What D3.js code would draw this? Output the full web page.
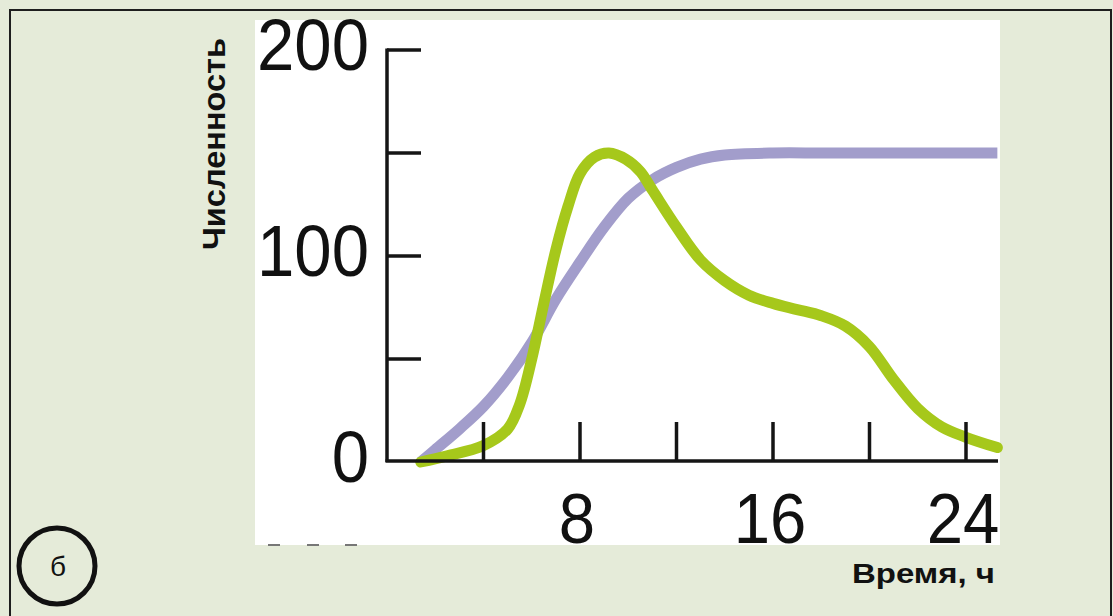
<!DOCTYPE html>
<html>
<head>
<meta charset="utf-8">
<script src="https://cdn.jsdelivr.net/npm/d3@7"></script>
<style>
  body { margin: 0; background: #e5ebd9; }
  svg { display: block; }
  text { font-family: "Liberation Sans", Arial, sans-serif; fill: #111; }
</style>
</head>
<body>
<div id="chart-area"></div>
<script>
// Data
const hours       = [1.4, 2, 3, 4, 5, 6, 7, 8, 9, 10, 11, 12, 13, 14, 16, 18, 20, 22, 24, 25.3]
const purpleCount = [0, 6, 16, 27, 41, 58, 79, 97, 114, 128, 137, 143, 147, 149, 150, 150, 150, 150, 150, 150]

const greenHours  = [1.4, 2.5, 4, 5, 5.5, 6, 6.5, 7, 7.5, 8, 8.6, 9.2, 9.9, 10.5, 11, 12, 13, 14, 15, 16, 17, 18, 19, 20, 21, 22, 23, 24, 25.3]
const greenCount  = [0, 3, 8, 16, 28, 50, 77, 103, 124, 140, 148, 150, 147, 141, 132, 114, 98, 88, 81, 77, 74, 71, 66, 56, 40, 26, 17, 12, 7]

const xTicks = [4, 8, 12, 16, 20, 24]
const xTickLabels = [8, 16, 24]
const yTicks = [50, 100, 150, 200]
const yTickLabels = [0, 100, 200]

// Layout
const W = 1113, H = 616
const PLOT = { LEFT: 387, RIGHT: 998, TOP: 50, BOTTOM: 462 }

const svg = d3.select("#chart-area").append("svg")
  .attr("width", W)
  .attr("height", H)

// background frame
svg.append("rect")
  .attr("x", 10).attr("y", 10)
  .attr("width", 1101).attr("height", 620)
  .attr("fill", "#e5ebd9")
  .attr("stroke", "#1e1e1e")
  .attr("stroke-width", 2)

// white panel
svg.append("rect")
  .attr("x", 255).attr("y", 20)
  .attr("width", 745).attr("height", 525)
  .attr("fill", "#ffffff")

// Scales
const x = d3.scaleLinear().domain([0, 24]).range([PLOT.LEFT, 966])
const y = d3.scaleLinear().domain([0, 200]).range([PLOT.BOTTOM, PLOT.TOP])

// Curves
const line = d3.line()
  .x(d => x(d[0]))
  .y(d => y(d[1]))
  .curve(d3.curveCatmullRom.alpha(0.5))

svg.append("path")
  .datum(hours.map((h, i) => [h, purpleCount[i]]))
  .attr("d", line)
  .attr("fill", "none")
  .attr("stroke", "#a29dcb")
  .attr("stroke-width", 11)

svg.append("path")
  .datum(greenHours.map((h, i) => [h, greenCount[i]]))
  .attr("d", line)
  .attr("fill", "none")
  .attr("stroke", "#a6c81b")
  .attr("stroke-width", 11)
  .attr("stroke-linecap", "round")

// Axes
const axisColor = "#151515"
svg.append("line")
  .attr("x1", PLOT.LEFT).attr("x2", PLOT.LEFT)
  .attr("y1", y(200) - 1.5).attr("y2", PLOT.BOTTOM)
  .attr("stroke", axisColor).attr("stroke-width", 3.5)

svg.append("line")
  .attr("x1", PLOT.LEFT - 1.5).attr("x2", PLOT.RIGHT)
  .attr("y1", PLOT.BOTTOM - 1).attr("y2", PLOT.BOTTOM - 1)
  .attr("stroke", axisColor).attr("stroke-width", 3.5)

svg.selectAll(".ytick")
  .data(yTicks)
  .join("line")
  .attr("class", "ytick")
  .attr("x1", PLOT.LEFT).attr("x2", PLOT.LEFT + 34)
  .attr("y1", d => y(d)).attr("y2", d => y(d))
  .attr("stroke", axisColor).attr("stroke-width", 3.5)

svg.selectAll(".xtick")
  .data(xTicks)
  .join("line")
  .attr("class", "xtick")
  .attr("x1", d => x(d)).attr("x2", d => x(d))
  .attr("y1", PLOT.BOTTOM - 40).attr("y2", PLOT.BOTTOM)
  .attr("stroke", axisColor).attr("stroke-width", 3.5)

// tick labels (narrow-ish digits)
svg.selectAll(".ylabel")
  .data(yTickLabels)
  .join("g")
  .attr("class", "ylabel")
  .attr("transform", d => `translate(369,${y(d) + 20}) scale(0.92,1)`)
  .append("text")
  .attr("text-anchor", "end")
  .style("font-size", "73px")
  .text(d => d)

svg.selectAll(".xlabel")
  .data(xTickLabels)
  .join("g")
  .attr("class", "xlabel")
  .attr("transform", d => `translate(${x(d) - 3},543) scale(0.92,1)`)
  .append("text")
  .attr("text-anchor", "middle")
  .style("font-size", "71px")
  .text(d => d)

// axis titles
svg.append("text")
  .attr("transform", "translate(225,144) rotate(-90)")
  .attr("text-anchor", "middle")
  .attr("textLength", 212)
  .attr("lengthAdjust", "spacingAndGlyphs")
  .style("font-size", "31px")
  .style("font-weight", "bold")
  .text("Численность")

svg.append("text")
  .attr("x", 852).attr("y", 583)
  .attr("textLength", 143)
  .attr("lengthAdjust", "spacingAndGlyphs")
  .style("font-size", "28px")
  .style("font-weight", "bold")
  .text("Время, ч")

// small dashes under the panel
svg.selectAll(".dash")
  .data([274, 313, 351])
  .join("line")
  .attr("class", "dash")
  .attr("x1", d => d - 6).attr("x2", d => d + 6)
  .attr("y1", 545).attr("y2", 545)
  .attr("stroke", "#777").attr("stroke-width", 2)

// panel marker
svg.append("circle")
  .attr("cx", 57).attr("cy", 566)
  .attr("r", 38)
  .attr("fill", "none")
  .attr("stroke", "#111")
  .attr("stroke-width", 5)

svg.append("text")
  .attr("x", 58).attr("y", 576)
  .attr("text-anchor", "middle")
  .style("font-size", "28px")
  .text("б")
</script>
</body>
</html>
